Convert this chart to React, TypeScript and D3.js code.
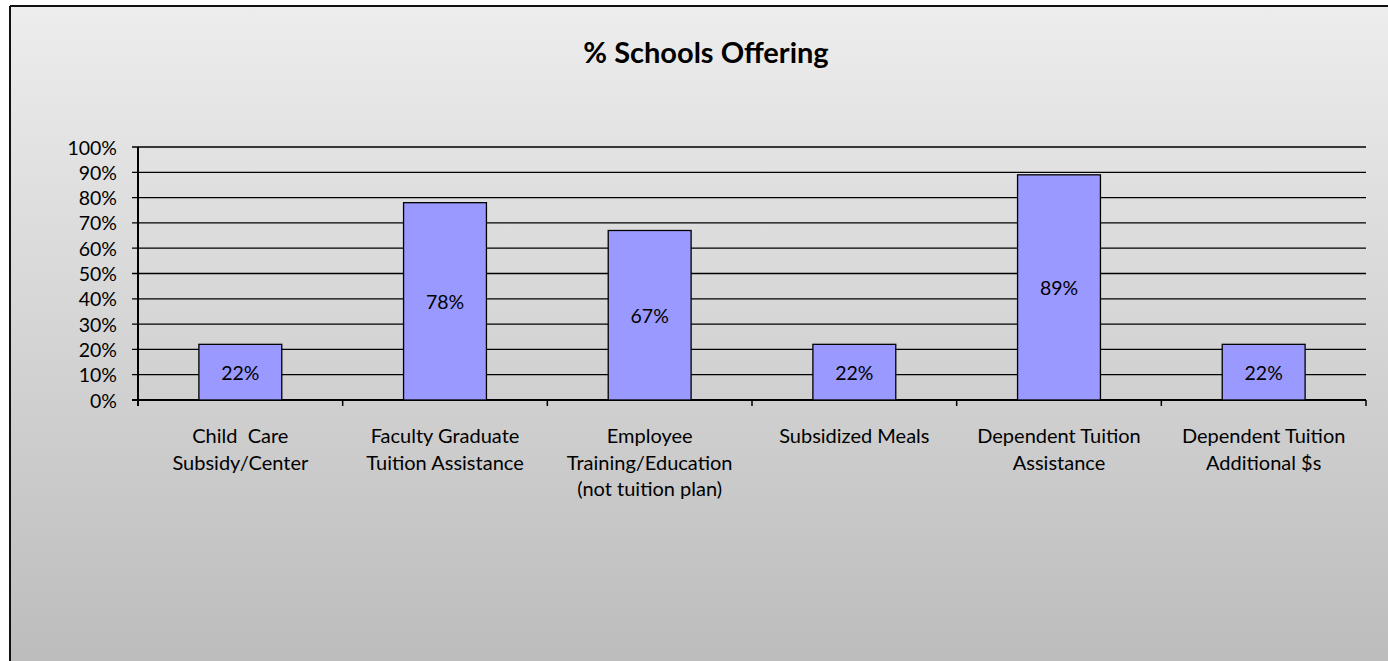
import React from "react";
import * as d3 from "d3";

const categories: string[][] = [
  ["Child  Care", "Subsidy/Center"],
  ["Faculty Graduate", "Tuition Assistance"],
  ["Employee", "Training/Education", "(not tuition plan)"],
  ["Subsidized Meals"],
  ["Dependent Tuition", "Assistance"],
  ["Dependent Tuition", "Additional $s"],
];
const values: number[] = [0.22, 0.78, 0.67, 0.22, 0.89, 0.22];
const yTicks: number[] = [0, 0.1, 0.2, 0.3, 0.4, 0.5, 0.6, 0.7, 0.8, 0.9, 1.0];
const title = "% Schools Offering";

const W = 1388;
const H = 661;
const FONT = "Lato, 'Open Sans', sans-serif";

export default function App() {
  const left = 138;
  const right = 1366;
  const top = 147;
  const bottom = 400;

  const x = d3
    .scaleBand<number>()
    .domain(d3.range(values.length))
    .range([left, right])
    .paddingInner(0.595)
    .paddingOuter(0.2975);
  const y = d3.scaleLinear().domain([0, 1]).range([bottom, top]);
  const step = x.step();
  const fmt = d3.format(".0%");

  return (
    <svg
      width={W}
      height={H}
      style={{ position: "absolute", left: 0, top: 0, display: "block" }}
    >
      <defs>
        <linearGradient id="bg" x1="0" y1="0" x2="0" y2="1">
          <stop offset="0%" stopColor="#ededed" />
          <stop offset="100%" stopColor="#bcbcbc" />
        </linearGradient>
      </defs>
      <rect x={0} y={0} width={W} height={H} fill="#ffffff" />
      <rect x={10} y={6} width={W} height={H} fill="url(#bg)" />
      <line x1={10} x2={W} y1={6} y2={6} stroke="#111" strokeWidth={2} />
      <line x1={10} x2={10} y1={6} y2={H} stroke="#111" strokeWidth={2} />

      <text
        x={706}
        y={63}
        textAnchor="middle"
        fontFamily={FONT}
        fontWeight="bold"
        fontSize={29}
        fill="#000"
      >
        {title}
      </text>

      {/* horizontal gridlines and y tick labels */}
      {yTicks.map((t) => (
        <g key={t}>
          <line
            x1={left - 6}
            x2={right}
            y1={y(t)}
            y2={y(t)}
            stroke="#000"
            strokeWidth={t === 0 ? 2 : 1.3}
          />
          <text
            x={117}
            y={y(t) + 7.5}
            textAnchor="end"
            fontFamily={FONT}
            fontSize={19.5}
            fill="#000"
          >
            {fmt(t)}
          </text>
        </g>
      ))}
      <line x1={left} x2={left} y1={top} y2={bottom + 6} stroke="#000" strokeWidth={2} />

      {/* category tick marks */}
      {d3.range(values.length + 1).map((i) => (
        <line
          key={i}
          x1={left + i * step}
          x2={left + i * step}
          y1={bottom}
          y2={bottom + 6}
          stroke="#000"
          strokeWidth={1.5}
        />
      ))}

      {/* bars */}
      {values.map((v, i) => (
        <g key={i}>
          <rect
            x={x(i)!}
            y={y(v)}
            width={x.bandwidth()}
            height={bottom - y(v)}
            fill="#9999ff"
            stroke="#000"
            strokeWidth={1.3}
          />
          <text
            x={x(i)! + x.bandwidth() / 2}
            y={(y(v) + bottom) / 2 + 8}
            textAnchor="middle"
            fontFamily={FONT}
            fontSize={19.5}
            fill="#000"
          >
            {fmt(v)}
          </text>
        </g>
      ))}

      {/* category labels */}
      {categories.map((lines, i) => (
        <text
          key={i}
          x={x(i)! + x.bandwidth() / 2}
          y={443}
          textAnchor="middle"
          fontFamily={FONT}
          fontSize={20}
          fill="#000"
        >
          {lines.map((l, j) => (
            <tspan key={j} x={x(i)! + x.bandwidth() / 2} dy={j === 0 ? 0 : 26.5} style={{ whiteSpace: "pre" }}>
              {l}
            </tspan>
          ))}
        </text>
      ))}
    </svg>
  );
}
